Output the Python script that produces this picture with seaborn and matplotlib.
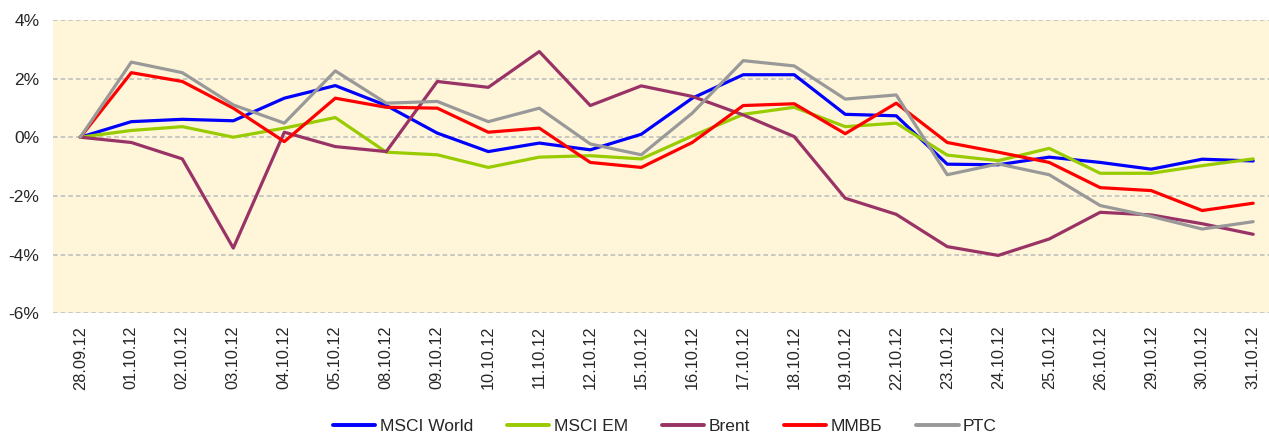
import matplotlib
matplotlib.use("Agg")
import matplotlib.pyplot as plt
import seaborn as sns
import numpy as np
import pandas as pd

# dates on the x axis
dates = ['28.09.12', '01.10.12', '02.10.12', '03.10.12', '04.10.12', '05.10.12',
         '08.10.12', '09.10.12', '10.10.12', '11.10.12', '12.10.12', '15.10.12',
         '16.10.12', '17.10.12', '18.10.12', '19.10.12', '22.10.12', '23.10.12',
         '24.10.12', '25.10.12', '26.10.12', '29.10.12', '30.10.12', '31.10.12']

# cumulative change, %
msci_world = [0, 0.53, 0.61, 0.56, 1.33, 1.76, 1.08, 0.14, -0.49, -0.20, -0.43, 0.10,
              1.33, 2.13, 2.13, 0.78, 0.73, -0.92, -0.94, -0.68, -0.86, -1.09, -0.75, -0.81]
msci_em = [0, 0.23, 0.36, 0.0, 0.31, 0.67, -0.51, -0.60, -1.03, -0.68, -0.63, -0.74,
           0.04, 0.78, 1.02, 0.36, 0.48, -0.61, -0.80, -0.38, -1.23, -1.23, -0.97, -0.74]
brent = [0, -0.18, -0.74, -3.78, 0.17, -0.32, -0.49, 1.90, 1.70, 2.92, 1.08, 1.75,
         1.39, 0.76, 0.02, -2.08, -2.63, -3.73, -4.03, -3.47, -2.56, -2.65, -2.95, -3.31]
micex = [0, 2.20, 1.90, 0.99, -0.15, 1.33, 1.02, 0.99, 0.17, 0.31, -0.86, -1.03,
         -0.18, 1.08, 1.14, 0.12, 1.16, -0.18, -0.51, -0.86, -1.72, -1.82, -2.50, -2.25]
rts = [0, 2.56, 2.20, 1.10, 0.48, 2.26, 1.16, 1.22, 0.53, 0.99, -0.23, -0.60,
       0.82, 2.61, 2.43, 1.30, 1.44, -1.28, -0.91, -1.28, -2.33, -2.70, -3.13, -2.88]

series_names = ['MSCI World', 'MSCI EM', 'Brent', 'ММВБ', 'РТС']
series_values = [msci_world, msci_em, brent, micex, rts]
colors = ['#0000FF', '#99CC00', '#993366', '#FF0000', '#999999']

yticks = [-6, -4, -2, 0, 2, 4]

# long-form table for seaborn
frames = []
for name, vals in zip(series_names, series_values):
    frames.append(pd.DataFrame({'pos': np.arange(len(dates)), 'value': vals, 'series': name}))
df = pd.concat(frames, ignore_index=True)

sns.set_style("white")
plt.rcParams['font.family'] = ['Liberation Sans', 'DejaVu Sans']

fig = plt.figure(figsize=(12.69, 4.32), dpi=100)
ax = fig.add_axes([0.042, 0.275, 0.958, 0.679])
ax.set_facecolor('#FFF5D9')

sns.lineplot(data=df, x='pos', y='value', hue='series', hue_order=series_names,
             palette=dict(zip(series_names, colors)), linewidth=2.3, sort=False,
             legend=False, ax=ax, zorder=3)

for y in yticks:
    ax.axhline(y, color='#BBBBBB', linestyle=(0, (3, 2)), linewidth=1.1, zorder=1)

ax.set_ylim(-6, 4)
ax.set_xlim(-0.53, 23.31)
ax.set_yticks(yticks)
ax.set_yticklabels([f'{v}%' for v in yticks], fontsize=12.5)
ax.set_xticks(np.arange(len(dates)))
ax.set_xticklabels(dates, rotation=90, fontsize=11.8)
ax.tick_params(axis='y', length=0, pad=10)
ax.tick_params(axis='x', length=0, pad=9)
ax.set_xlabel('')
ax.set_ylabel('')
for sp in ax.spines.values():
    sp.set_visible(False)

handles = [plt.Line2D([], [], color=c, linewidth=2.8) for c in colors]
fig.legend(handles, series_names, loc='lower center', bbox_to_anchor=(0.524, -0.04),
           ncol=5, frameon=False, handlelength=2.45, handletextpad=0.25,
           columnspacing=1.95, fontsize=12.5)

fig.savefig('out.png', dpi=100)
